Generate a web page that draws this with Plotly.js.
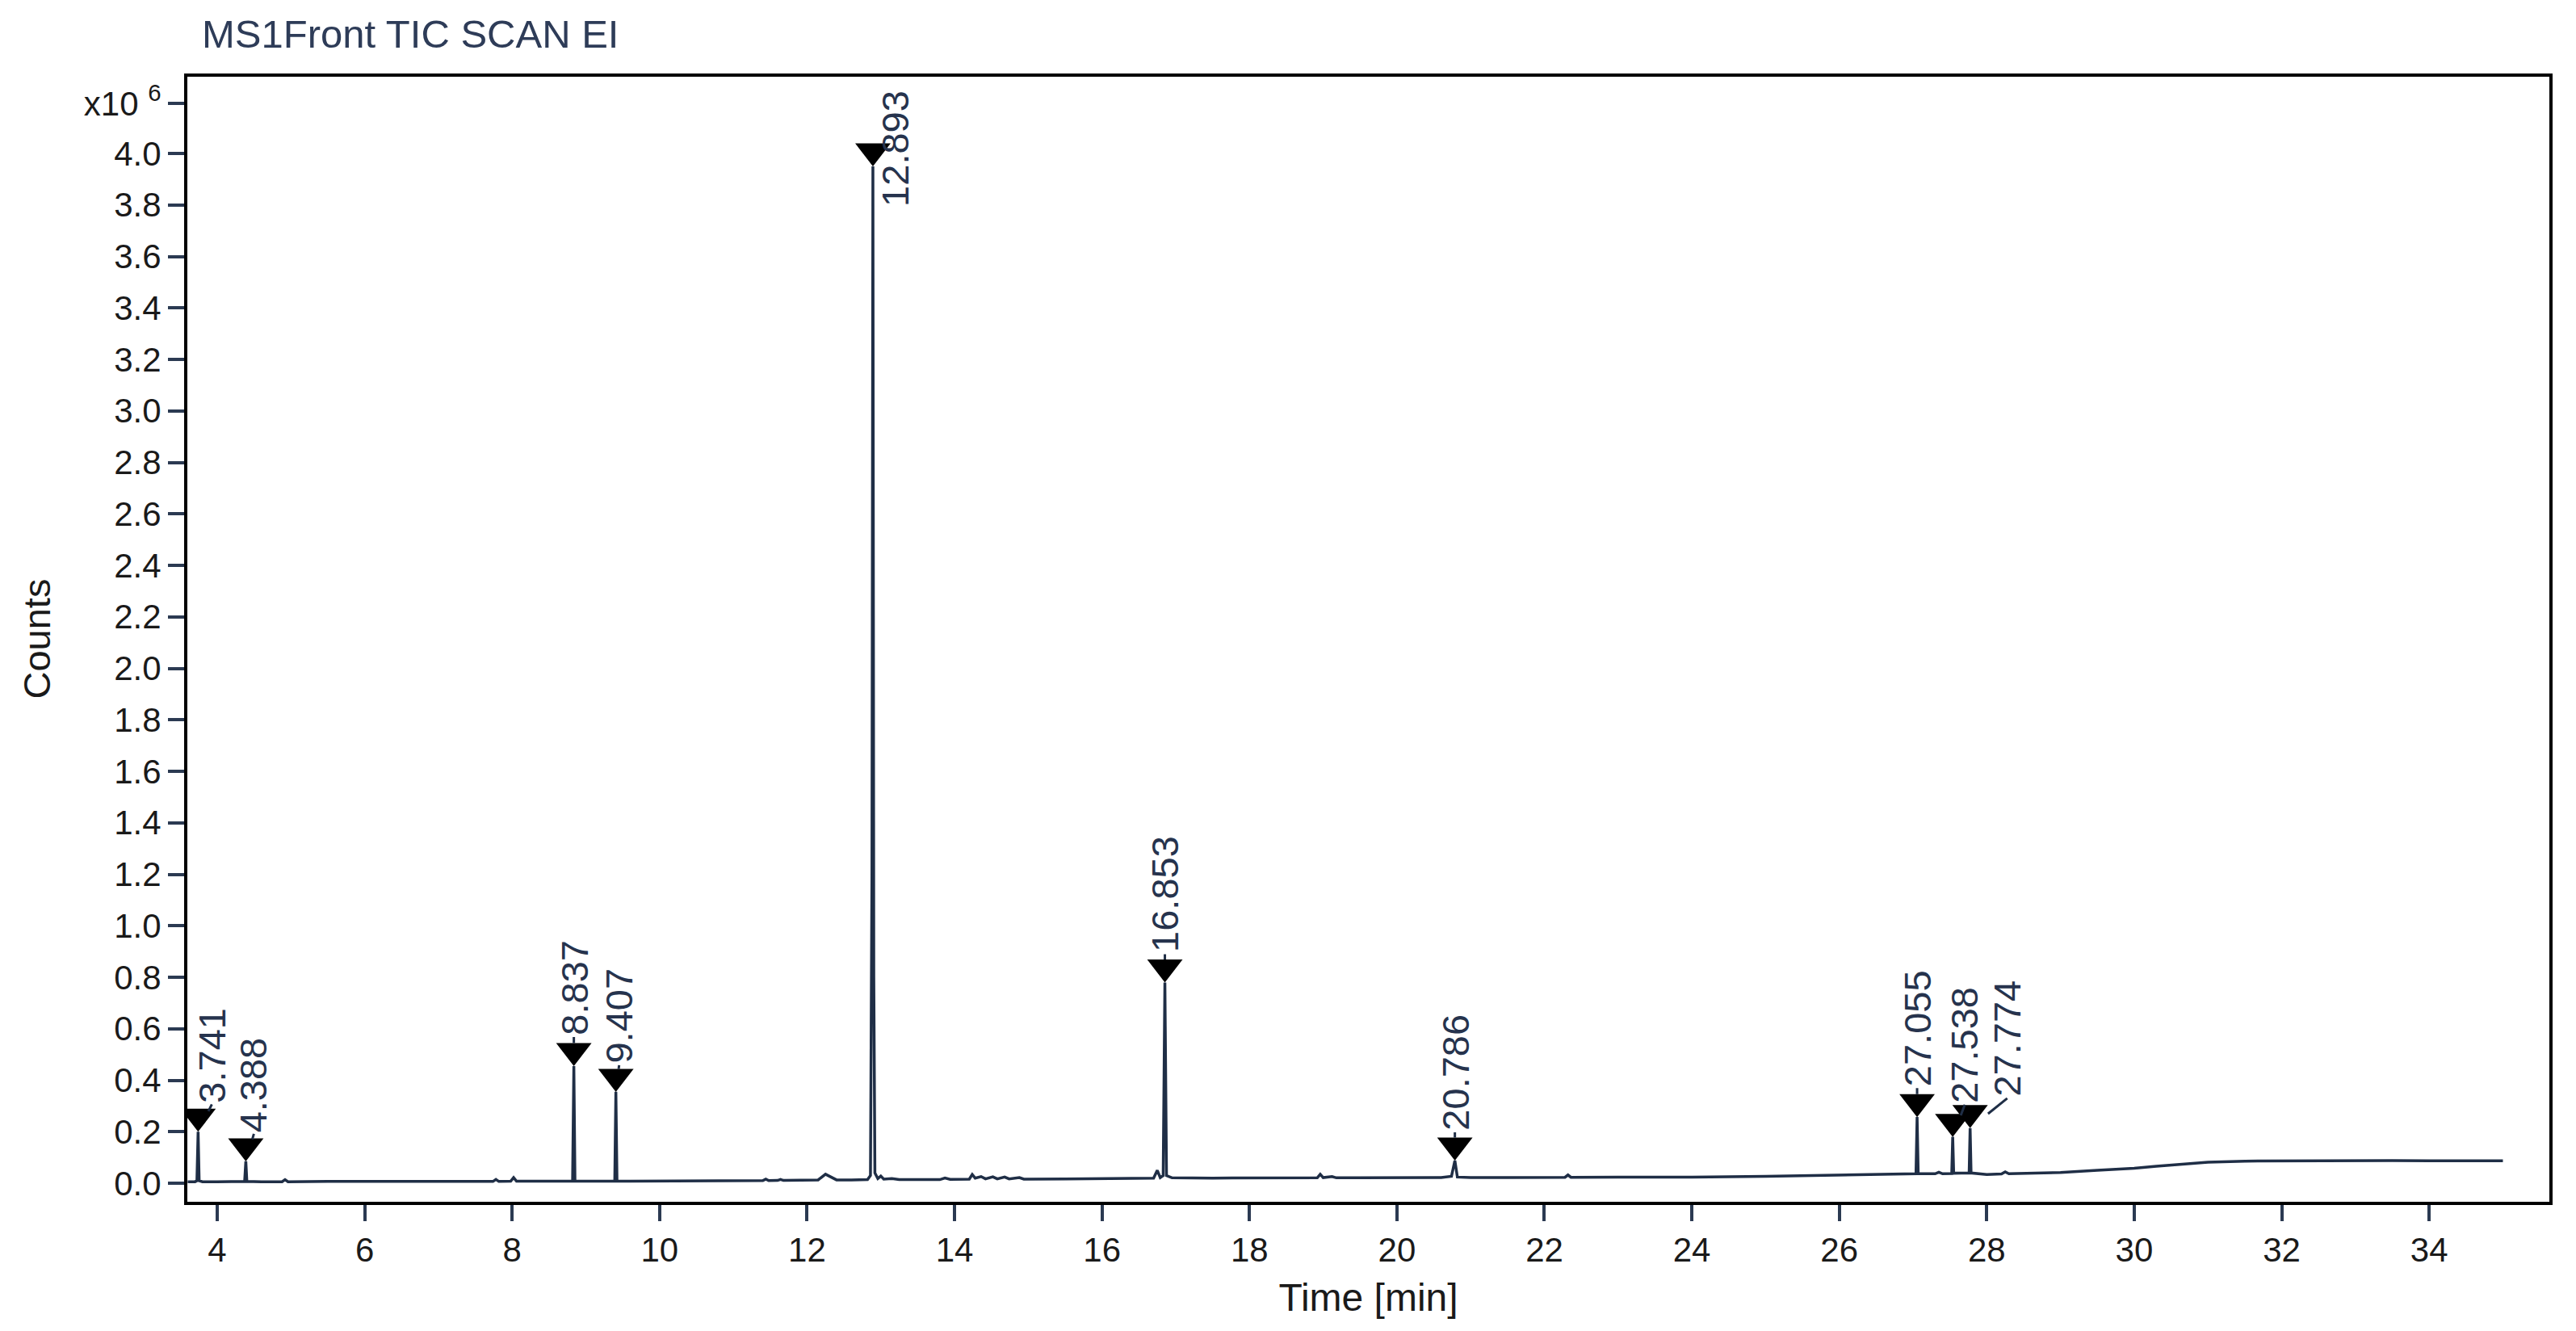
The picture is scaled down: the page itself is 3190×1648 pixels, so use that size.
<!DOCTYPE html>
<html><head><meta charset="utf-8">
<script src="https://cdn.plot.ly/plotly-3.0.1.min.js"></script>
<style>html,body{margin:0;padding:0;background:#fff;} #chart{width:3190px;height:1648px;}</style>
</head><body><div id="chart"></div>
<script>
// Retention time (min)
const timeMin = [
 3.600,3.700,3.725,3.741,3.755,3.800,4.000,4.200,4.372,4.388,4.402,4.600,4.880,4.920,4.960,
 5.500,6.000,6.500,7.000,7.500,7.740,7.780,7.820,7.980,8.020,8.060,8.500,8.820,8.837,8.852,
 9.000,9.392,9.407,9.422,9.600,10.000,10.500,11.000,11.400,11.440,11.480,11.600,11.640,11.680,
 12.000,12.150,12.250,12.320,12.400,12.600,12.820,12.860,12.880,12.893,12.905,12.920,12.960,
 13.000,13.040,13.150,13.250,13.800,13.870,13.940,14.200,14.240,14.280,14.360,14.420,14.520,
 14.580,14.680,14.740,14.880,14.940,15.500,16.000,16.500,16.700,16.750,16.790,16.830,16.853,
 16.875,16.950,17.500,18.000,18.500,18.920,18.960,19.000,19.120,19.180,19.500,20.000,20.600,
 20.740,20.786,20.820,21.000,21.500,22.000,22.280,22.320,22.360,23.000,24.000,25.000,25.500,
 26.000,26.500,26.900,27.040,27.055,27.070,27.300,27.350,27.400,27.525,27.538,27.551,27.761,
 27.774,27.787,27.900,28.000,28.200,28.250,28.300,28.600,29.000,29.500,30.000,30.300,30.600,
 31.000,31.500,32.000,32.500,33.000,33.500,34.000,34.500,35.000
];
// Counts (x10^6)
const countsE6 = [
 0.006,0.006,0.010,0.200,0.010,0.006,0.006,0.006,0.007,0.085,0.007,0.006,0.006,0.014,0.006,
 0.007,0.007,0.007,0.007,0.007,0.007,0.015,0.007,0.008,0.022,0.008,0.008,0.008,0.455,0.009,
 0.008,0.008,0.355,0.009,0.008,0.009,0.009,0.010,0.010,0.016,0.010,0.011,0.015,0.011,
 0.012,0.013,0.035,0.025,0.013,0.013,0.014,0.030,1.200,3.950,0.800,0.040,0.018,
 0.028,0.016,0.018,0.014,0.014,0.020,0.015,0.016,0.034,0.020,0.026,0.017,0.025,
 0.017,0.024,0.017,0.022,0.016,0.017,0.018,0.019,0.020,0.050,0.022,0.030,0.780,
 0.030,0.021,0.020,0.020,0.020,0.021,0.035,0.022,0.026,0.021,0.021,0.021,0.022,
 0.027,0.088,0.024,0.022,0.022,0.022,0.023,0.032,0.023,0.024,0.024,0.027,0.029,
 0.031,0.033,0.035,0.037,0.257,0.037,0.037,0.043,0.037,0.038,0.180,0.039,0.040,
 0.214,0.040,0.036,0.034,0.036,0.044,0.037,0.038,0.042,0.050,0.058,0.066,0.074,
 0.082,0.086,0.087,0.088,0.087,0.088,0.087,0.086,0.087
];
// Integrated peaks
const peakTimes = [3.741, 4.388, 8.837, 9.407, 12.893, 16.853, 20.786, 27.055, 27.538, 27.774];
const peakApex  = [0.200, 0.085, 0.455, 0.355, 3.950, 0.780, 0.088, 0.257, 0.180, 0.214];
const peakLabels = ["3.741","4.388","8.837","9.407","12.893","16.853","20.786","27.055","27.538","27.774"];
// Axis ticks
const xTickVals = [4,6,8,10,12,14,16,18,20,22,24,26,28,30,32,34];
const yTickVals = [0,0.2,0.4,0.6,0.8,1.0,1.2,1.4,1.6,1.8,2.0,2.2,2.4,2.6,2.8,3.0,3.2,3.4,3.6,3.8,4.0,4.195];
const yTickText = ["0.0","0.2","0.4","0.6","0.8","1.0","1.2","1.4","1.6","1.8","2.0","2.2","2.4","2.6","2.8","3.0","3.2","3.4","3.6","3.8","4.0","x10 <sup>6</sup>"];

// ---- styling / layout ----
const W = 3190, H = 1648;
const M = {l:232, r:33, t:95, b:160};
const xRange = [3.595, 35.63];
const yRange = [-0.072, 4.298];
const FONT = 'Liberation Sans, Arial, Helvetica, sans-serif';
const INK = '#1f2e46';
const triR = 19; // marker half-size in px
const unitsPerPx = (yRange[1]-yRange[0]) / (H - M.t - M.b);
// label offsets [ax, ay] in px: tail (start of rotated text) relative to peak apex
const labelOffsets = [[17,-34],[10,-34],[0,-36],[4,-33],null,[0,-35],[0,-35],[0,-36],[15,-40],[46,-37]];

const trace = {
  x: timeMin, y: countsE6, type: 'scatter', mode: 'lines',
  line: {color: INK, width: 3.5}, hoverinfo: 'x+y', showlegend: false
};
const markers = {
  x: peakTimes, y: peakApex.map(v => v + triR*unitsPerPx), type: 'scatter', mode: 'markers',
  marker: {symbol: 'triangle-down', size: 2*triR, color: '#000', line: {width: 0}},
  hoverinfo: 'skip', showlegend: false
};

const annotations = peakTimes.map((t, i) => {
  const base = {
    x: t, y: peakApex[i], xref: 'x', yref: 'y', text: peakLabels[i], textangle: -90,
    font: {family: FONT, size: 47, color: '#26334d'}
  };
  const off = labelOffsets[i];
  if (!off) {
    return Object.assign(base, {showarrow: false, xanchor: 'center', yanchor: 'middle', xshift: 28, yshift: 22});
  }
  // anchors refer to the text's own frame: 'left' = start of the rotated string (its bottom)
  return Object.assign(base, {
    showarrow: true, arrowhead: 0, arrowwidth: 3, arrowcolor: INK,
    standoff: 1.5*triR, ax: off[0], ay: off[1], axref: 'pixel', ayref: 'pixel',
    xanchor: 'left', yanchor: 'middle'
  });
});
annotations.push({
  text: 'Counts', xref: 'paper', yref: 'paper', x: 0, y: 0.5, xshift: 45 - M.l,
  xanchor: 'center', yanchor: 'middle', textangle: -90, showarrow: false,
  font: {family: FONT, size: 47, color: '#1a1a1a'}
});

const layout = {
  width: W, height: H,
  margin: M,
  paper_bgcolor: '#fff', plot_bgcolor: '#fff',
  title: {
    text: 'MS1Front TIC SCAN EI', xref: 'container', yref: 'container',
    x: 250/W, xanchor: 'left', y: 1 - 42/H, yanchor: 'middle',
    font: {family: FONT, size: 49, color: '#2e3c58'}
  },
  xaxis: {
    range: xRange, tickvals: xTickVals, ticktext: xTickVals.map(String),
    showgrid: false, zeroline: false,
    showline: true, linecolor: '#000', linewidth: 4, mirror: true,
    ticks: 'outside', ticklen: 20, tickwidth: 4, tickcolor: '#2b3a52',
    tickfont: {family: FONT, size: 42, color: '#1a1a1a'},
    title: {text: 'Time [min]', standoff: 20, font: {family: FONT, size: 48, color: '#1a1a1a'}}
  },
  yaxis: {
    range: yRange, tickvals: yTickVals, ticktext: yTickText,
    showgrid: false, zeroline: false,
    showline: true, linecolor: '#000', linewidth: 4, mirror: true,
    ticks: 'outside', ticklen: 20, tickwidth: 4, tickcolor: '#2b3a52',
    tickfont: {family: FONT, size: 42, color: '#1a1a1a'}
  },
  annotations: annotations
};

Plotly.newPlot('chart', [trace, markers], layout, {displayModeBar: false, staticPlot: true});
</script>
</body></html>
